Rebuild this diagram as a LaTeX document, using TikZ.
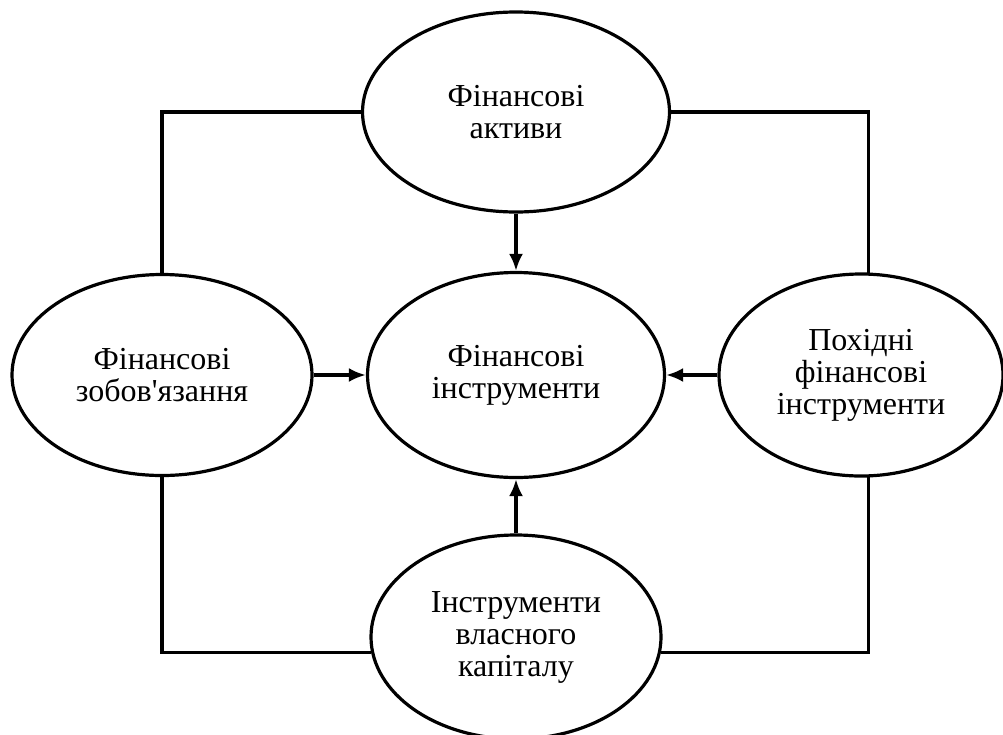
\documentclass[tikz,border=0pt]{standalone}
\usepackage{fontspec}
\setmainfont{Liberation Serif}
\usetikzlibrary{arrows.meta,shapes.geometric,positioning}

\begin{document}
\begin{tikzpicture}[x=1pt,y=-1pt,line width=3.2pt,on grid,
    >={Latex[length=17pt,width=14pt]},
    inst/.style={ellipse,draw,inner sep=0pt,align=center,
        font=\fontsize{32}{32}\selectfont}]
    \useasboundingbox (0,0) rectangle (1003,734);
    \node[inst,minimum width=297pt,minimum height=205pt] (fi) at (516,375) {Фінансові\\інструменти};
    \node[inst,minimum width=307pt,minimum height=200pt] (fa) [above=263pt of fi] {Фінансові\\активи};
    \node[inst,minimum width=300pt,minimum height=201pt] (fz) [left=354pt of fi] {Фінансові\\зобов\textquotesingle язання};
    \node[inst,minimum width=284pt,minimum height=202pt] (pfi) [right=345pt of fi] {Похідні\\фінансові\\інструменти};
    \node[inst,minimum width=290pt,minimum height=204pt] (ivk) [below=262pt of fi] {Інструменти\\власного\\капіталу};
    % outer frame
    \draw (fa.west) -| (fz.north);
    \draw (fa.east) -| (pfi.86);
    \draw (fz.south) |- (ivk.186);
    \draw (pfi.274) |- (ivk.354);
    % arrows to the centre
    \draw[->] (fa.south) -- (fa.south |- fi.north);
    \draw[->] (fz.east) -- (fz.east -| fi.west);
    \draw[->] (pfi.west) -- (pfi.west -| fi.east);
    \draw[->] (ivk.north) -- (ivk.north |- fi.south);
\end{tikzpicture}
\end{document}
